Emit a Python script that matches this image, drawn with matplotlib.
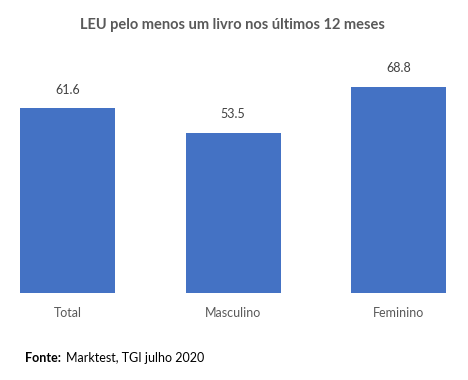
import matplotlib
matplotlib.use("Agg")
import matplotlib.pyplot as plt

# data
categories = ["Total", "Masculino", "Feminino"]
values = [61.6, 53.5, 68.8]
title = "LEU pelo menos um livro nos últimos 12 meses"

plt.rcParams['font.family'] = ['Lato', 'DejaVu Sans']

fig = plt.figure(figsize=(4.68, 3.8), dpi=100)
ax = fig.add_axes([0, (380 - 293) / 380, 1, (293 - 60) / 380])

x = range(len(categories))
bars = ax.bar(x, values, width=0.574, color="#4472C4")
ax.set_xlim(-0.408, 2.42)
ax.set_ylim(0, 77.7)

for b, v in zip(bars, values):
    ax.annotate(f"{v:.1f}", (b.get_x() + b.get_width() / 2, v),
                xytext=(0, 9), textcoords="offset points",
                ha="center", va="bottom", fontsize=9, color="#404040")

for i, c in enumerate(categories):
    ax.annotate(c, (i, 0), xytext=(0, -10), textcoords="offset points",
                ha="center", va="top", fontsize=9, color="#595959")

for s in ax.spines.values():
    s.set_visible(False)
ax.set_xticks([])
ax.set_yticks([])

fig.text(232 / 468, 1 - 25 / 380, title, ha="center", va="center",
         fontsize=10.5, fontweight="bold", color="#595959")

fig.text(25 / 468, 1 - 358 / 380, "Fonte:", ha="left", va="center",
         fontsize=9, fontweight="bold", color="black")
fig.text(66 / 468, 1 - 358 / 380, "Marktest, TGI julho 2020", ha="left", va="center",
         fontsize=9, color="black")

fig.savefig("out.png", dpi=100)
